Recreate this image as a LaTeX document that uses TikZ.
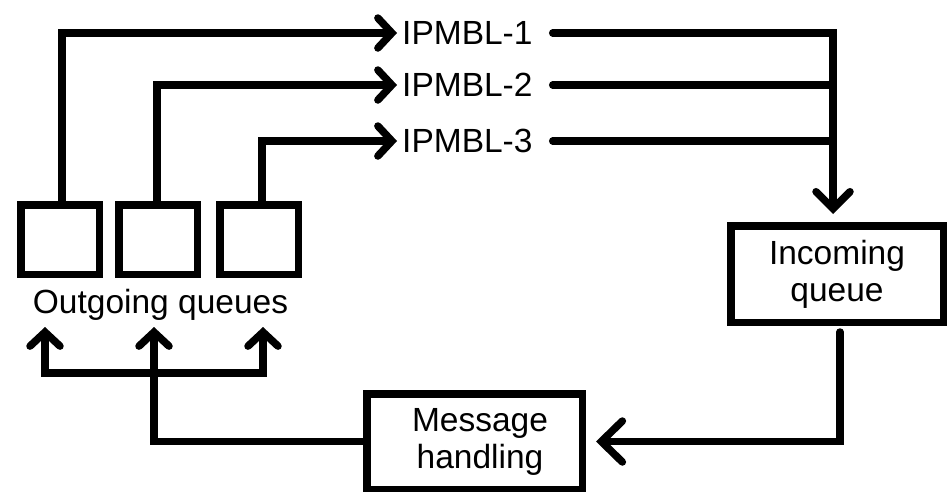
\documentclass[tikz,border=0pt]{standalone}
\usepackage{fontspec}
\setmainfont{Liberation Sans}
\usetikzlibrary{arrows.meta}

\tikzset{
  wire/.style={line width=7.5pt, line cap=round, line join=miter},
  qbox/.style={draw, line width=7.5pt, minimum width=78.5pt, minimum height=69.5pt, inner sep=0pt},
  bigbox/.style={draw, line width=7.5pt, inner sep=0pt, align=center,
    font=\fontsize{33.5}{37}\selectfont},
  lbl/.style={inner sep=0pt, font=\fontsize{33.5}{37}\selectfont},
  barbS/.tip={Straight Barb[length=14pt,width=30pt,line cap=round]},
  tipS/.style={-barbS},
  tipM/.style={-{Straight Barb[length=17pt,width=34pt,line cap=round]}},
  tipL/.style={-{Straight Barb[length=21pt,width=41pt,line cap=round]}},
}

\begin{document}
\begin{tikzpicture}[x=1pt, y=-1pt]
  \fill[white] (0,0) rectangle (947,491);
  \useasboundingbox (0,0) rectangle (947,491);

  % outgoing queues
  \node[qbox] (q1) at (60,239.5) {};
  \node[qbox] (q2) at (158,239.5) {};
  \node[qbox] (q3) at (259,239.5) {};
  \node[lbl, anchor=base] (outl) at (160.5,313) {Outgoing queues};

  % links
  \node[lbl, anchor=west] (ip1) at (402,33) {IPMBL-1};
  \node[lbl, anchor=west] (ip2) at (402,85) {IPMBL-2};
  \node[lbl, anchor=west] (ip3) at (402,141) {IPMBL-3};

  % incoming queue and message handling
  \node[bigbox, minimum width=212.5pt, minimum height=96.5pt] (inq) at (837,274) {Incoming\\queue};
  \node[bigbox, minimum width=215.5pt, minimum height=95.5pt] (mh) at (474.5,441.5) {\hspace*{11pt}Message\\\hspace*{11pt}handling};

  % merge point above the incoming queue, and arrow targets under the label
  \coordinate (jn) at ([xshift=-4pt]inq.north);
  \coordinate (t1) at (45,327);
  \coordinate (t2) at (154,327);
  \coordinate (t3) at (263,327);

  % outgoing queues to links
  \draw[wire, tipS, shorten >=5pt] ([xshift=2pt]q1.north) |- (ip1.west);
  \draw[wire, tipS, shorten >=5pt] ([xshift=-1pt]q2.north) |- (ip2.west);
  \draw[wire, tipS, shorten >=5pt] ([xshift=3pt]q3.north) |- (ip3.west);

  % links into the incoming queue
  \draw[wire, shorten <=20pt] (ip2.east) -- (ip2.east -| jn);
  \draw[wire, shorten <=20pt] (ip3.east) -- (ip3.east -| jn);
  \draw[wire, tipM, shorten <=20pt, shorten >=8pt] (ip1.east) -| (jn);

  % incoming queue to message handling
  \draw[wire, tipL, shorten <=6pt, shorten >=10pt] ([xshift=3pt]inq.south) |- (mh.east);

  % message handling back to the outgoing queues
  \draw[wire, tipS] (mh.west) -| (t2);
  \draw[wire, barbS-barbS] (t1) |- (t3 |- 0,373) -- (t3);
\end{tikzpicture}
\end{document}
